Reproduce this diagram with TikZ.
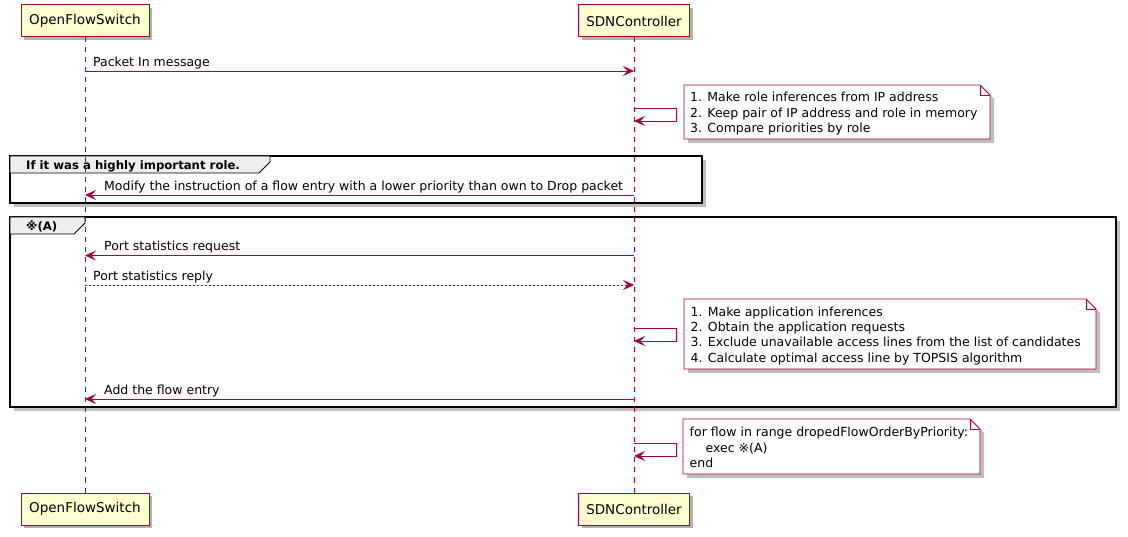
\documentclass[tikz,border=0pt]{standalone}
\usepackage{fontspec}
\setmainfont{DejaVu Sans}
\usetikzlibrary{arrows.meta,calc,shadows}
\definecolor{puRed}{HTML}{A80036}
\definecolor{puYellow}{HTML}{FEFECE}
\definecolor{tabGray}{HTML}{EEEEEE}
\begin{document}
\begin{tikzpicture}[x=1pt,y=-1pt,
  participant/.style={draw=puRed, fill=puYellow, line width=1pt, minimum height=32pt, inner sep=0pt,
    font=\fontsize{13.5}{16}\selectfont,
    drop shadow={shadow xshift=3pt, shadow yshift=-3pt, opacity=0.3, fill=black}},
  lifeline/.style={draw=puRed, line width=0.9pt, dash pattern=on 5pt off 5pt},
  msg/.style={draw=puRed, line width=0.9pt, -{Stealth[length=11pt,width=10pt,inset=4.5pt]}},
  replymsg/.style={msg, dash pattern=on 2pt off 2pt},
  msglabel/.style={anchor=base west, inner sep=0pt, font=\fontsize{12.5}{15}\selectfont},
  notetext/.style={anchor=north west, inner sep=0pt, align=left, font=\fontsize{12.5}{15.4}\selectfont},
  noteframe/.style={draw=puRed, fill=white, line width=0.9pt, line join=miter},
  shadowfill/.style={fill=black, opacity=0.25},
  groupframe/.style={draw=black, fill=white, line width=1.8pt},
  tabstyle/.style={draw=black, fill=tabGray, line width=0.9pt},
  grouplabel/.style={anchor=base west, inner sep=0pt, font=\bfseries\fontsize{11.7}{14}\selectfont},
]
\useasboundingbox (0,0) rectangle (1128,537);

% ---------- groups ----------
\fill[shadowfill] (14,160) rectangle (706,207);
\draw[groupframe] (10,156) rectangle (702,203);
\draw[tabstyle] (10,156) -- (270,156) -- (270,162) -- (259,173) -- (10,173) -- cycle;
\node[grouplabel] (g1lbl) at (26,169.5) {If it was a highly important role.};

\fill[shadowfill] (14,221) rectangle (1120,411);
\draw[groupframe] (10,217) rectangle (1116,407);
\draw[tabstyle] (10,217) -- (85,217) -- (85,223) -- (74,234) -- (10,234) -- cycle;
\node[grouplabel] (g2lbl) at (26,230.5) {※(A)};

% ---------- participants ----------
\node[participant, minimum width=128pt] (ofsT) at (85,21) {OpenFlowSwitch};
\node[participant, minimum width=111pt] (sdnT) at (634,21) {SDNController};
\node[participant, minimum width=128pt] (ofsB) at (85,509) {OpenFlowSwitch};
\node[participant, minimum width=111pt] (sdnB) at (634,509) {SDNController};

% ---------- lifelines ----------
\draw[lifeline] (ofsT.south) -- (ofsB.north);
\draw[lifeline] (sdnT.south) -- (sdnB.north);

% ---------- messages ----------
\coordinate (m1a) at (ofsT |- 0,71);
\coordinate (m1b) at (sdnT |- 0,71);
\draw[msg] (m1a) -- (m1b);
\node[msglabel] (m1lbl) at (93,66.5) {Packet In message};

\coordinate (s1a) at (sdnT |- 0,108);
\coordinate (s1b) at (sdnT |- 0,121);
\draw[msg] (s1a) -- ++(42,0) |- (s1b);

\coordinate (m2a) at (sdnT |- 0,195);
\coordinate (m2b) at (ofsT |- 0,195);
\draw[msg] (m2a) -- (m2b);
\node[msglabel] (m2lbl) at (104,190.5) {Modify the instruction of a flow entry with a lower priority than own to Drop packet};

\coordinate (m3a) at (sdnT |- 0,255.5);
\coordinate (m3b) at (ofsT |- 0,255.5);
\draw[msg] (m3a) -- (m3b);
\node[msglabel] (m3lbl) at (104,251) {Port statistics request};

\coordinate (m4a) at (ofsT |- 0,285);
\coordinate (m4b) at (sdnT |- 0,285);
\draw[replymsg] (m4a) -- (m4b);
\node[msglabel] (m4lbl) at (93,280.5) {Port statistics reply};

\coordinate (s2a) at (sdnT |- 0,328);
\coordinate (s2b) at (sdnT |- 0,341);
\draw[msg] (s2a) -- ++(42,0) |- (s2b);

\coordinate (m5a) at (sdnT |- 0,399);
\coordinate (m5b) at (ofsT |- 0,399);
\draw[msg] (m5a) -- (m5b);
\node[msglabel] (m5lbl) at (104,394.5) {Add the flow entry};

\coordinate (s3a) at (sdnT |- 0,443);
\coordinate (s3b) at (sdnT |- 0,456);
\draw[msg] (s3a) -- ++(42,0) |- (s3b);

% ---------- notes ----------
\fill[shadowfill] (688,89) -- (984,89) -- (994,99) -- (994,143) -- (688,143) -- cycle;
\draw[noteframe] (684,85) -- (980,85) -- (990,95) -- (990,139) -- (684,139) -- cycle;
\draw[puRed, line width=0.9pt] (980,85) -- (980,95) -- (990,95);
\node[notetext] (n1) at (690,92.2) {1. Make role inferences from IP address\\2. Keep pair of IP address and role in memory\\3. Compare priorities by role};

\fill[shadowfill] (688,303) -- (1090,303) -- (1100,313) -- (1100,373) -- (688,373) -- cycle;
\draw[noteframe] (684,299) -- (1086,299) -- (1096,309) -- (1096,369) -- (684,369) -- cycle;
\draw[puRed, line width=0.9pt] (1086,299) -- (1086,309) -- (1096,309);
\node[notetext] (n2) at (690.5,306.5) {1. Make application inferences\\2. Obtain the application requests\\3. Exclude unavailable access lines from the list of candidates\\4. Calculate optimal access line by TOPSIS algorithm};

\fill[shadowfill] (687,423) -- (974,423) -- (984,433) -- (984,478) -- (687,478) -- cycle;
\draw[noteframe] (683,419) -- (970,419) -- (980,429) -- (980,474) -- (683,474) -- cycle;
\draw[puRed, line width=0.9pt] (970,419) -- (970,429) -- (980,429);
\node[notetext] (n3) at (689.5,427) {for flow in range dropedFlowOrderByPriority:\\\hspace*{16pt}exec ※(A)\\end};

\end{tikzpicture}
\end{document}
